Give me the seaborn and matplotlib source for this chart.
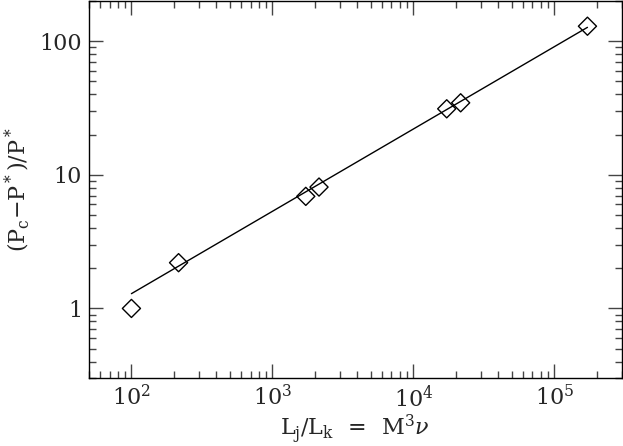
import matplotlib
matplotlib.use('Agg')
import matplotlib.pyplot as plt
import seaborn as sns
from matplotlib.ticker import FixedLocator, FixedFormatter, LogLocator, NullFormatter, LogFormatterMathtext

# ── Data ─────────────────────────────────────────────────────────────────────
ratio = [100, 216, 1726, 2143, 17260, 21670, 172000]      # L_j / L_k
excess = [1.0, 2.2, 6.9, 8.1, 31.2, 34.6, 129.5]          # (P_c - P*) / P*
fit_x = [100, 172000]
fit_y = [1.29, 127]

y_ticks = [1, 10, 100]
y_ticklabels = ['1', '10', '100']
x_ticks = [1e2, 1e3, 1e4, 1e5]

sns.set_style('ticks')
plt.rcParams['font.family'] = ['DejaVu Serif']
plt.rcParams['mathtext.fontset'] = 'dejavuserif'

fig = plt.figure(figsize=(6.23, 4.46), dpi=100)
ax = fig.add_axes([89 / 623, 1 - 378.3 / 446, (621.5 - 89) / 623, (378.3 - 1) / 446])

ax.set_xscale('log')
ax.set_yscale('log')

sns.lineplot(x=fit_x, y=fit_y, ax=ax, color='black', linewidth=1)
sns.scatterplot(x=ratio, y=excess, ax=ax, marker='D', s=85,
                facecolor='none', edgecolor='black', linewidth=1, zorder=3)

ax.set_xlim(50, 3e5)
ax.set_ylim(0.3, 200)

ax.xaxis.set_major_locator(FixedLocator(x_ticks))
ax.xaxis.set_major_formatter(LogFormatterMathtext())
ax.xaxis.set_minor_locator(LogLocator(base=10, subs=range(2, 10), numticks=20))
ax.xaxis.set_minor_formatter(NullFormatter())
ax.yaxis.set_major_locator(FixedLocator(y_ticks))
ax.yaxis.set_major_formatter(FixedFormatter(y_ticklabels))
ax.yaxis.set_minor_locator(LogLocator(base=10, subs=range(2, 10), numticks=20))
ax.yaxis.set_minor_formatter(NullFormatter())

ax.tick_params(which='both', direction='in', top=True, right=True, width=1, color='#444444')
ax.tick_params(which='major', length=10, labelsize=16, pad=5)
ax.tick_params(which='minor', length=5)
for sp in ax.spines.values():
    sp.set_linewidth(1)
    sp.set_color('black')

ax.set_xlabel(r'L$_\mathregular{j}$/L$_\mathregular{k}$ $\,=\,$ M$^\mathregular{3}\nu$', fontsize=16, labelpad=1)
ax.set_ylabel(r'(P$_\mathregular{c}$$-$P$^*$)/P$^*$', fontsize=16, labelpad=5)

fig.savefig('out.png', dpi=100)
